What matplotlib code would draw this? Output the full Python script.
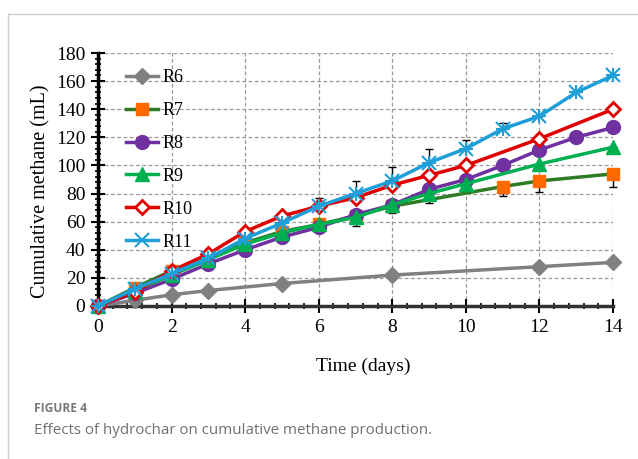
import numpy as np
import matplotlib.pyplot as plt
from matplotlib.ticker import MultipleLocator
from matplotlib.lines import Line2D

# cumulative methane (mL)
r6_days = [0, 1, 2, 3, 5, 8, 12, 14]
r6 = [0, 4, 8, 11, 16, 22, 28, 31]

r7_days = [0, 1, 2, 3, 4, 5, 6, 7, 8, 11, 12, 14]
r7 = [0, 13, 25, 34, 45, 53, 58, 64, 71, 85, 89, 94]
r7_err = [0, 2, 3, 0, 0, 0, 0, 0, 0, 7, 8, 9]

r8_days = list(range(15))
r8 = [0, 9, 19, 30, 40, 49, 56, 65, 72, 83, 90, 100, 111, 120, 127]

r9_days = [0, 1, 2, 3, 4, 5, 6, 7, 8, 9, 10, 12, 14]
r9 = [0, 11, 22, 33, 44, 52, 58, 63, 72, 80, 87, 101, 113]
r9_err = [0, 0, 0, 0, 0, 0, 0, 6, 6, 7, 0, 0, 0]

r10_days = [0, 1, 2, 3, 4, 5, 6, 7, 8, 9, 10, 12, 14]
r10 = [0, 10, 25, 37, 53, 64, 71, 77, 86, 93, 100, 119, 140]

r11_days = list(range(15))
r11 = [0, 12, 23, 34, 48, 59, 71, 80, 89, 102, 112, 126, 135, 152, 164]
r11_err = [0, 0, 5, 0, 0, 0, 6, 9, 10, 10, 6, 4, 0, 0, 0]

plt.rcParams["font.family"] = ["Liberation Serif"]

fig = plt.figure(figsize=(6.38, 4.59), dpi=100)
ax = fig.add_axes([98 / 638, 1 - 306 / 459, 515 / 638, 253 / 459])

# error bars first so markers sit on top
eb = dict(fmt="none", ecolor="black", elinewidth=1, capsize=3, capthick=1,
          zorder=2, clip_on=False)
ax.errorbar(r7_days, r7, yerr=[r7_err, np.zeros(len(r7_err))], **eb)
ax.errorbar(r9_days, r9, yerr=[r9_err, np.zeros(len(r9_err))], **eb)
ax.errorbar(r11_days, r11, yerr=[np.zeros(len(r11_err)), r11_err], **eb)

kw = dict(lw=2.5, clip_on=False, zorder=3)
ax.plot(r6_days, r6, color="#808080", marker="D", ms=8, mec="#808080", label="R6", **kw)
ax.plot(r7_days, r7, color="#2e7d24", marker="s", ms=9, mfc="#ff6a00", mec="#ff6a00",
        label="R7", **kw)
ax.plot(r8_days, r8, color="#7030a0", marker="o", ms=10, label="R8", **kw)
ax.plot(r9_days, r9, color="#00b050", marker="^", ms=10, label="R9", **kw)
ax.plot(r10_days, r10, color="#e00000", marker="D", ms=7, mfc="white", mec="#e00000",
        mew=2, label="R10", **kw)
ax.plot(r11_days, r11, color="#1f9fd8", marker="x", ms=10, mew=1.5, label="R11", **kw)
ax.plot(r11_days, r11, color="none", marker="+", ms=10, mew=1.5, mec="#1f9fd8",
        clip_on=False, zorder=3)

ax.set_xlim(0, 14)
ax.set_ylim(0, 180)
ax.xaxis.set_major_locator(MultipleLocator(2))
ax.xaxis.set_minor_locator(MultipleLocator(0.4))
ax.yaxis.set_major_locator(MultipleLocator(20))
ax.yaxis.set_minor_locator(MultipleLocator(4))

ax.grid(True, which="major", ls=(0, (3, 2)), color="#999999", lw=0.9)
ax.set_axisbelow(True)
for s in ["top", "right"]:
    ax.spines[s].set_visible(False)
ax.spines["left"].set_linewidth(2.5)
ax.spines["left"].set_color("black")
ax.spines["bottom"].set_linewidth(2.5)
ax.spines["bottom"].set_color("#333333")
ax.tick_params(which="major", direction="inout", length=10, width=1.5, labelsize=14,
               colors="black", pad=4)
ax.tick_params(which="minor", direction="inout", length=5, width=1.2)

ax.set_xlabel("Time (days)", fontsize=14)
ax.set_ylabel("Cumulative methane (mL)", fontsize=14.5)
ax.xaxis.set_label_coords(0.515, -0.205)
ax.yaxis.set_label_coords(-0.092, 0.455)

ax.legend(loc="upper left", bbox_to_anchor=(0.04, 0.965), frameon=False, fontsize=13,
          labelspacing=0.88, handlelength=1.8, handletextpad=0.25, borderaxespad=0)

# card border and caption
fig.add_artist(Line2D([8 / 638, 8 / 638], [0, 1 - 14 / 459], color="#d0d0d0", lw=1))
fig.add_artist(Line2D([8 / 638, 1], [1 - 14 / 459, 1 - 14 / 459], color="#d0d0d0", lw=1))
fig.text(34 / 638, 1 - 409 / 459, "FIGURE 4", fontsize=8.6, color="#777777",
         family=["Open Sans", "DejaVu Sans"], va="center", weight="bold")
fig.text(34 / 638, 1 - 430 / 459, "Effects of hydrochar on cumulative methane production.",
         fontsize=10.9, color="#707070", family=["Open Sans", "DejaVu Sans"], va="center")

fig.savefig("out.png", dpi=100)
